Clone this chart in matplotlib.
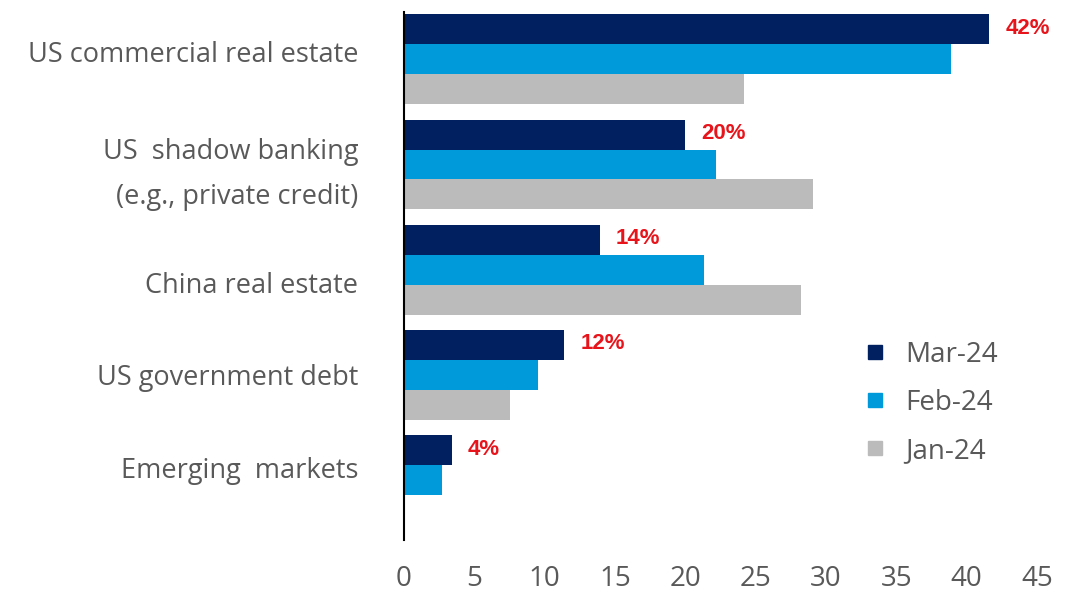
import matplotlib.pyplot as plt
from matplotlib.lines import Line2D
from matplotlib.transforms import Affine2D
import numpy as np

# data
categories = ["US commercial real estate", "US  shadow banking\n(e.g., private credit)",
              "China real estate", "US government debt", "Emerging  markets"]
mar24 = [41.6, 20.0, 13.9, 11.4, 3.4]
feb24 = [38.9, 22.2, 21.3, 9.5, 2.7]
jan24 = [24.2, 29.1, 28.2, 7.5, 0.0]
mar_labels = ["42%", "20%", "14%", "12%", "4%"]
series_names = ["Mar-24", "Feb-24", "Jan-24"]
colors = ["#002060", "#009ADB", "#BBBBBB"]
xticks = [0, 5, 10, 15, 20, 25, 30, 35, 40, 45]

grey_txt = "#595959"
fam = ["Open Sans", "DejaVu Sans"]
narrow = ["Liberation Sans Narrow", "Liberation Sans", "DejaVu Sans"]

fig = plt.figure(figsize=(10.84, 5.96), dpi=100)
ax = fig.add_axes([404 / 1084, 1 - 540 / 596, (1037 - 404) / 1084, (540 - 12) / 596])

y = np.arange(len(categories))
h = 0.285
for i, (vals, c) in enumerate(zip([mar24, feb24, jan24], colors)):
    ax.barh(y + (i - 1) * h, vals, height=h, color=c, edgecolor="none")

# red value labels next to the Mar-24 bars
for yi, v, lab in zip(y, mar24, mar_labels):
    ax.text(v + 1.15, yi - h - 0.01, lab, color="#E8141B", fontsize=16, fontweight="bold",
            family=narrow, va="center", ha="left")

ax.set_xlim(0, 45)
ax.set_ylim(4.57, -0.45)
ax.set_xticks(xticks)
ax.set_xticklabels([str(t) for t in xticks], fontsize=20, color=grey_txt, family=fam)
ax.set_yticks(y)
ax.set_yticklabels(categories, fontsize=19.5, color=grey_txt, family=fam, linespacing=1.8)
ax.tick_params(axis="both", length=0)
ax.tick_params(axis="y", pad=33)
ax.tick_params(axis="x", pad=18)

# the labels in the original sit a little off the group centres
label_shift = [8, 2, -13, 0, 13]  # pixels, positive = up
for t, dy in zip(ax.get_yticklabels(), label_shift):
    t.set_transform(t.get_transform() + Affine2D().translate(0, dy))

for s in ["top", "right", "bottom"]:
    ax.spines[s].set_visible(False)
ax.spines["left"].set_color("black")
ax.spines["left"].set_linewidth(1.5)

handles = [Line2D([], [], marker="s", linestyle="", markersize=9.5, color=c) for c in colors]
leg = fig.legend(handles, series_names, loc="center left", bbox_to_anchor=(868 / 1084, 1 - 403 / 596),
                 frameon=False, prop={"family": fam, "size": 20}, labelspacing=0.72,
                 handletextpad=0.85, handlelength=0.5, borderpad=0, borderaxespad=0)
for t in leg.get_texts():
    t.set_color(grey_txt)

fig.savefig("out.png", dpi=100)
